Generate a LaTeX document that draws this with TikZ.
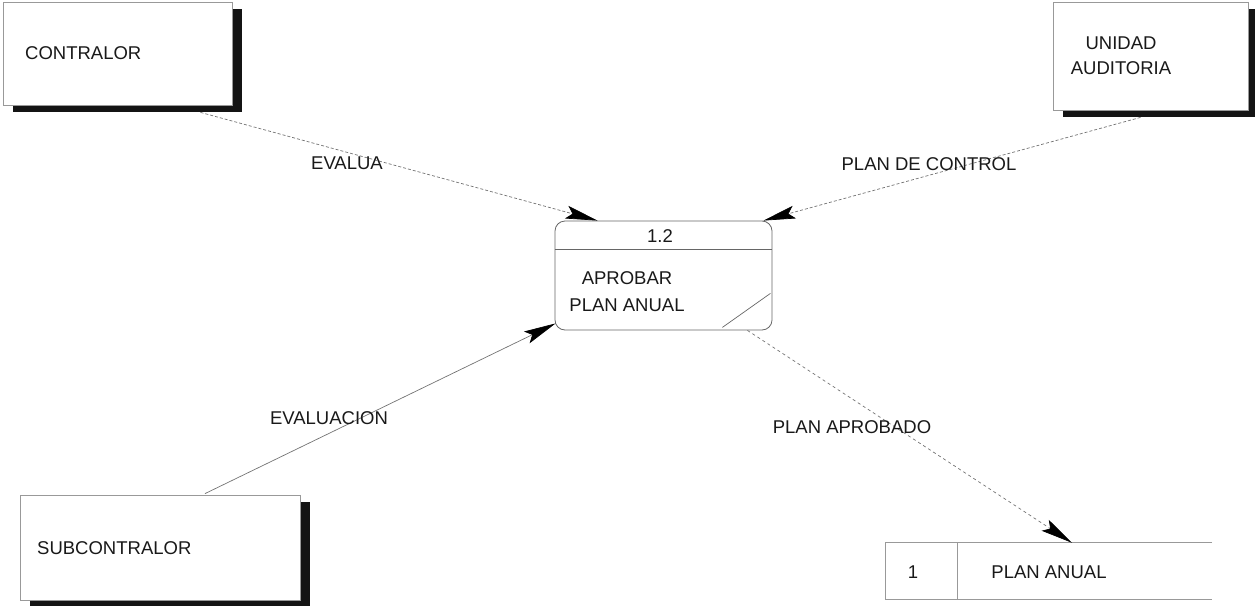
\documentclass[tikz,border=0pt]{standalone}
\usepackage{fontspec}
\setmainfont{Liberation Sans}
\usetikzlibrary{arrows.meta,shadows,calc}

\begin{document}
\begin{tikzpicture}[x=1pt,y=-1pt,
  every node/.style={font=\fontsize{18.5}{25}\selectfont, text=black!90},
  entity/.style={draw=black!40, line width=0.8pt, fill=white, inner sep=0pt,
    general shadow={fill=black!92, shadow xshift=9.5pt, shadow yshift=-7pt}},
  process/.style={draw=black!60, line width=0.8pt, rounded corners=10pt, inner sep=0pt},
  flow/.style={draw=black!55, line width=0.7pt,
    -{Stealth[length=32pt,width=13pt,inset=6pt,black]}},
  lbl/.style={inner sep=0pt},
  storeline/.style={draw=black!40, line width=0.8pt}
]
\clip (0,0) rectangle (1255,605);
\useasboundingbox (0,0) rectangle (1255,605);

% external entities
\node[entity, minimum width=229pt, minimum height=103pt] (contralor) at (117.5,53.5) {};
\node[lbl, anchor=west] (contralorTxt) at (25,53) {CONTRALOR};

\node[entity, minimum width=195pt, minimum height=108pt] (unidad) at (1150.5,56) {};
\node[lbl, align=center] (unidadTxt) at (1121,56) {UNIDAD\\AUDITORIA};

\node[entity, minimum width=280pt, minimum height=105pt] (sub) at (160,547.5) {};
\node[lbl, anchor=west] (subTxt) at (37,548) {SUBCONTRALOR};

% process 1.2
\node[process, minimum width=217pt, minimum height=109pt] (proc) at (663.5,275.5) {};
\draw[draw=black!60, line width=0.7pt] ($(proc.north west)+(0,29)$) -- ($(proc.north east)+(0,29)$);
\draw[draw=black!60, line width=0.7pt] ($(proc.south east)+(-50,-3)$) -- ($(proc.south east)+(-2,-37)$);
\node[lbl] (procId) at (660,236) {1.2};
\node[lbl, align=center] (procTxt) at (627,291.5) {APROBAR\\[2pt]PLAN ANUAL};

% data store
\node[minimum width=326pt, minimum height=56pt, inner sep=0pt] (store) at (1049,571) {};
\draw[storeline] (store.north east) -- (store.north west) -- (store.south west) -- (store.south east);
\draw[storeline] ($(store.north west)+(72,0)$) -- ($(store.south west)+(72,0)$);
\node[lbl] (storeId) at (913,572) {1};
\node[lbl] (storeTxt) at (1049,572) {PLAN ANUAL};

% data flows
\draw[flow, densely dashed] ($(contralor.south)+(83,7)$) -- ($(proc.north west)+(43,0)$);
\draw[flow, densely dashed] ($(unidad.south)+(-10,7)$) -- ($(proc.north east)+(-9,0)$);
\draw[flow] ($(sub.north)+(45,-1)$) -- ($(proc.south west)+(1,-7)$);
\draw[flow, dashed] ($(proc.south east)+(-25,0)$) -- ($(store.north)+(23,0)$);

% flow labels
\node[lbl] (lEvalua) at (347,163) {EVALUA};
\node[lbl] (lPlanControl) at (929,164) {PLAN DE CONTROL};
\node[lbl] (lEvaluacion) at (329,418) {EVALUACION};
\node[lbl] (lPlanAprobado) at (852,427) {PLAN APROBADO};
\end{tikzpicture}
\end{document}
